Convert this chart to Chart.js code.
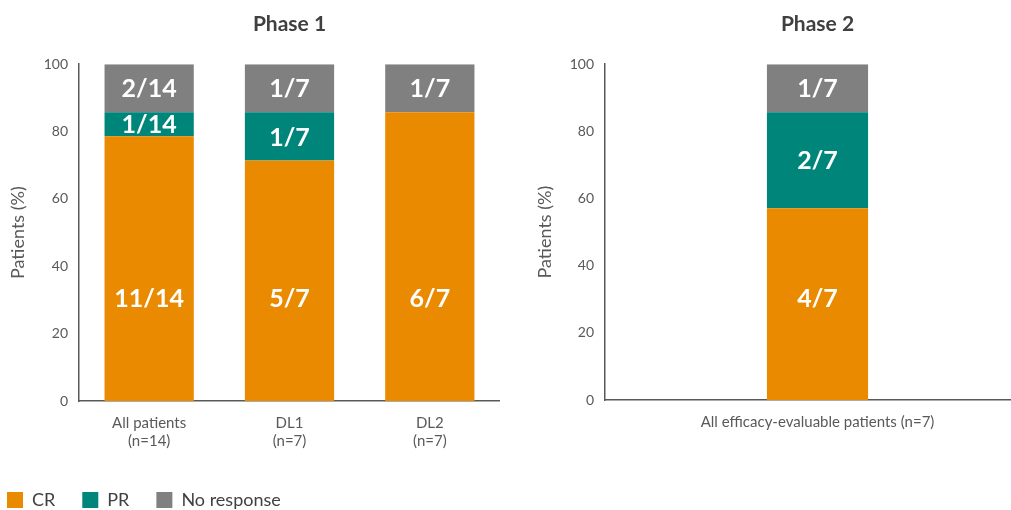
<!DOCTYPE html>
<html>
<head>
<meta charset="utf-8">
<script src="https://cdn.jsdelivr.net/npm/chart.js@4.4.1/dist/chart.umd.min.js"></script>
<style>
  html, body { margin: 0; padding: 0; background: #fff; overflow: hidden; width: 1011px; height: 510px; }
  #wrap1 { position: absolute; left: -20px; top: 0; width: 520px; height: 519px; }
  #wrap2 { position: absolute; left: 526px; top: 0; width: 504px; height: 510px; }
</style>
</head>
<body>
<div id="wrap1"><canvas id="phase1-chart"></canvas></div>
<div id="wrap2"><canvas id="phase2-chart"></canvas></div>
<script>
// Phase 1 data (percent of patients)
const phase1Categories = [['All patients', '(n=14)'], ['DL1', '(n=7)'], ['DL2', '(n=7)']];
const phase1CR = [78.6, 71.4, 85.7];
const phase1PR = [7.1, 14.3, 0];
const phase1NR = [14.3, 14.3, 14.3];
const phase1CRLabels = ['11/14', '5/7', '6/7'];
const phase1PRLabels = ['1/14', '1/7', ''];
const phase1NRLabels = ['2/14', '1/7', '1/7'];

// Phase 2 data
const phase2Categories = ['All efficacy-evaluable patients (n=7)'];
const phase2CR = [57.1];
const phase2PR = [28.6];
const phase2NR = [14.3];
const phase2CRLabels = ['4/7'];
const phase2PRLabels = ['2/7'];
const phase2NRLabels = ['1/7'];

const yTicks = [0, 20, 40, 60, 80, 100];

const FONT = 'Lato, "Noto Sans", sans-serif';
const ORANGE = '#EA8A00';
const TEAL = '#00857A';
const GREY = '#808080';
const AXIS = '#595959';

// draws the fraction text in each stacked segment (CR labels sit at a fixed height)
const segmentLabels = {
  id: 'segmentLabels',
  afterDatasetsDraw(chart) {
    const ctx = chart.ctx;
    const yScale = chart.scales.y;
    ctx.save();
    ctx.fillStyle = '#ffffff';
    ctx.font = 'bold 25px ' + FONT;
    ctx.textAlign = 'center';
    ctx.textBaseline = 'middle';
    chart.data.datasets.forEach((ds, i) => {
      const meta = chart.getDatasetMeta(i);
      meta.data.forEach((bar, j) => {
        const txt = ds.fractions[j];
        if (!txt) return;
        const p = bar.getProps(['x', 'y', 'base'], true);
        const y = ds.labelAt != null ? yScale.getPixelForValue(ds.labelAt) : (p.y + p.base) / 2;
        ctx.fillText(txt, p.x, y + 1);
      });
    });
    ctx.restore();
  }
};

function makeChart(id, title, labels, cr, pr, nr, crL, prL, nrL, barPct, showLegend, yTitlePad) {
  return new Chart(document.getElementById(id), {
    type: 'bar',
    data: {
      labels: labels,
      datasets: [
        { label: 'CR', data: cr, fractions: crL, labelAt: 30.5, backgroundColor: ORANGE },
        { label: 'PR', data: pr, fractions: prL, backgroundColor: TEAL },
        { label: 'No response', data: nr, fractions: nrL, backgroundColor: GREY },
      ]
    },
    options: {
      responsive: true,
      maintainAspectRatio: false,
      animation: false,
      layout: { padding: { left: 0, right: 0, top: 0, bottom: showLegend ? 0 : 47 } },
      datasets: { bar: { barPercentage: barPct, categoryPercentage: 1 } },
      plugins: {
        tooltip: { enabled: false },
        title: {
          display: true,
          text: title,
          fullSize: false,
          color: '#404040',
          font: { family: FONT, size: 21, weight: 'bold' },
          padding: { top: 12, bottom: 27 }
        },
        legend: {
          display: showLegend,
          position: 'bottom',
          align: 'start',
          labels: {
            boxWidth: 16,
            boxHeight: 16,
            padding: 27,
            color: '#404040',
            font: { family: FONT, size: 18 }
          }
        }
      },
      scales: {
        x: {
          stacked: true,
          grid: { display: false, drawTicks: false },
          border: { display: true, color: AXIS, width: 1.5 },
          ticks: { color: AXIS, font: { family: FONT, size: 15 }, padding: 13 },
          afterFit: s => { s.height = 63; }
        },
        y: {
          stacked: true,
          min: 0,
          max: 100,
          afterBuildTicks: s => { s.ticks = yTicks.map(v => ({ value: v })); },
          grid: { display: false, drawTicks: false },
          border: { display: true, color: AXIS, width: 1.5 },
          ticks: { color: AXIS, font: { family: FONT, size: 14 }, padding: 11 },
          title: {
            display: true,
            text: 'Patients (%)',
            color: AXIS,
            font: { family: FONT, size: 18 },
            padding: { top: yTitlePad, bottom: 0 }
          },
          afterFit: s => { s.width = showLegend ? 99 : 79; }
        }
      }
    },
    plugins: [segmentLabels]
  });
}

makeChart('phase1-chart', 'Phase 1', phase1Categories, phase1CR, phase1PR, phase1NR,
  phase1CRLabels, phase1PRLabels, phase1NRLabels, 0.636, true, 27);
makeChart('phase2-chart', 'Phase 2', phase2Categories, phase2CR, phase2PR, phase2NR,
  phase2CRLabels, phase2PRLabels, phase2NRLabels, 0.238, false, 8);
</script>
</body>
</html>
